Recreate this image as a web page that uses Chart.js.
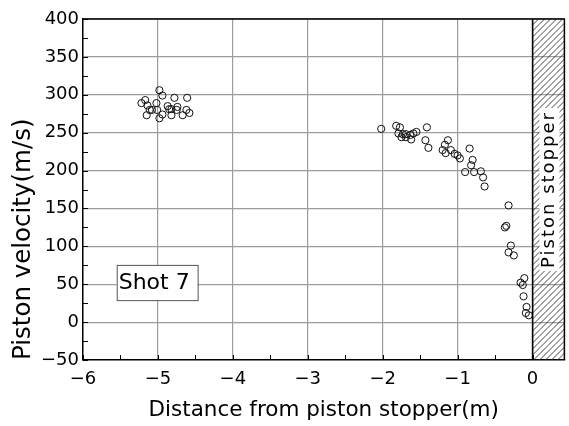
<!DOCTYPE html>
<html><head><meta charset="utf-8">
<script src="https://cdn.jsdelivr.net/npm/chart.js@4.4.1/dist/chart.umd.min.js"></script>
<style>html,body{margin:0;padding:0;background:#fff;overflow:hidden}#c{display:block}</style>
</head><body>
<canvas id="c" width="569" height="426"></canvas>
<script>
// Distance from piston stopper (m)
const distance = [
  -4.98,-4.94,-5.17,-4.78,-4.61,-5.22,-5.14,-5.02,-4.87,-4.74,-4.62,-5.11,-5.08,-4.85,-4.82,-4.75,-5.01,-5.15,-4.94,-4.82,-4.67,-4.58,-4.98,
  -2.02,-1.82,-1.77,-1.79,-1.73,-1.69,-1.63,-1.59,-1.55,-1.75,-1.69,-1.62,-1.41,-1.43,-1.39,-1.17,-1.20,-1.16,
  -1.13,-1.09,-0.84,-1.00,-1.04,-0.97,-0.80,-0.82,-0.90,-0.78,-0.69,-0.66,-0.64,
  -0.32,-0.37,-0.35,-0.29,-0.32,-0.25,-0.11,-0.16,-0.13,-0.12,-0.08,-0.09,-0.05
];
// Piston velocity (m/s)
const velocity = [
  306,299,293,296,296,289,286,289,285,284,280,280,280,281,281,280,280,273,274,273,273,276,269,
  255,259,257,249,248,248,247,249,251,244,244,241,257,240,230,234,227,223,
  240,227,229,220,222,216,214,207,198,198,199,191,179,
  154,125,127,101,92,88,58,52,49,34,20,12,9
];
const xTickValues = [-6,-5,-4,-3,-2,-1,0];
const yTickValues = [-50,0,50,100,150,200,250,300,350,400];
const xMinorValues = [-5.5,-4.5,-3.5,-2.5,-1.5,-0.5];
const yMinorValues = [-25,25,75,125,175,225,275,325,375];
const xTitle = 'Distance from piston stopper(m)';
const yTitle = 'Piston velocity(m/s)';
const stopperLabel = 'Piston stopper';
const shotLabel = 'Shot 7';

const fmt = v => (v < 0 ? '\u2212' + Math.abs(v) : String(v));
const GRID = '#9d9d9d';

const decor = {
  id: 'decor',
  beforeDatasetsDraw(chart) {
    const {ctx, chartArea: a, scales: {x, y}} = chart;
    const x0 = x.getPixelForValue(0);
    const H = a.bottom - a.top, W = a.right - x0;
    // hatched stopper region
    ctx.save();
    ctx.beginPath(); ctx.rect(x0, a.top, W, H); ctx.clip();
    ctx.strokeStyle = '#333'; ctx.lineWidth = 0.9;
    ctx.beginPath();
    for (let s = -H; s < W + 6; s += 6) {
      ctx.moveTo(x0 + s, a.bottom); ctx.lineTo(x0 + s + H, a.top);
    }
    ctx.stroke();
    ctx.restore();
    // stopper label
    ctx.save();
    ctx.font = '18px "DejaVu Sans"';
    try { ctx.letterSpacing = '2px'; } catch (e) {}
    const tw = ctx.measureText(stopperLabel).width;
    const cx = x0 + W / 2 + 1, cy = y.getPixelForValue(175);
    ctx.fillStyle = '#fff';
    ctx.fillRect(cx - 10, cy - tw / 2 - 3, 20, tw + 6);
    ctx.translate(cx, cy); ctx.rotate(-Math.PI / 2);
    ctx.fillStyle = '#000'; ctx.textAlign = 'center'; ctx.textBaseline = 'middle';
    ctx.fillText(stopperLabel, 0, 0);
    ctx.restore();
    // Shot 7 box
    ctx.save();
    const bx1 = x.getPixelForValue(-5.55), bx2 = x.getPixelForValue(-4.47);
    const by1 = y.getPixelForValue(75.5), by2 = y.getPixelForValue(29);
    ctx.fillStyle = '#fff'; ctx.fillRect(bx1, by1, bx2 - bx1, by2 - by1);
    ctx.strokeStyle = '#555'; ctx.lineWidth = 1;
    ctx.strokeRect(bx1 + 0.5, by1 + 0.5, bx2 - bx1, by2 - by1);
    ctx.font = '22px "DejaVu Sans"'; ctx.fillStyle = '#000';
    ctx.textAlign = 'left'; ctx.textBaseline = 'middle';
    ctx.fillText(shotLabel, bx1 + 2, (by1 + by2) / 2 + 1);
    ctx.restore();
  },
  afterDraw(chart) {
    const {ctx, chartArea: a, scales: {x, y}} = chart;
    ctx.save();
    ctx.strokeStyle = '#000'; ctx.lineWidth = 1.5;
    ctx.beginPath();
    ctx.moveTo(a.left, a.top); ctx.lineTo(a.right, a.top); ctx.lineTo(a.right, a.bottom);
    const x0 = x.getPixelForValue(0);
    ctx.moveTo(x0, a.top); ctx.lineTo(x0, a.bottom);
    ctx.stroke();
    ctx.lineWidth = 1;
    ctx.beginPath();
    yMinorValues.concat(yTickValues).forEach(v => {
      const py = Math.round(y.getPixelForValue(v)) + 0.5;
      ctx.moveTo(a.left, py); ctx.lineTo(a.left + 5, py);
    });
    xMinorValues.concat(xTickValues).forEach(v => {
      const px = Math.round(x.getPixelForValue(v)) + 0.5;
      ctx.moveTo(px, a.bottom); ctx.lineTo(px, a.bottom - 5);
    });
    ctx.stroke();
    ctx.restore();
  }
};

new Chart(document.getElementById('c'), {
  type: 'scatter',
  data: {
    datasets: [{
      data: distance.map((d, i) => ({x: d, y: velocity[i]})),
      pointStyle: 'circle',
      pointRadius: 3.6,
      pointHoverRadius: 3.6,
      borderWidth: 1,
      borderColor: '#111',
      backgroundColor: 'rgba(0,0,0,0)'
    }]
  },
  options: {
    responsive: false,
    animation: false,
    devicePixelRatio: 1,
    layout: {padding: {left: 0, right: 2, top: 19, bottom: 0}},
    plugins: {legend: {display: false}, tooltip: {enabled: false}},
    scales: {
      x: {
        type: 'linear', min: -6, max: 0.425,
        afterBuildTicks: s => { s.ticks = xTickValues.map(v => ({value: v})); },
        afterFit: s => { s.height = 66; },
        grid: {drawTicks: false, lineWidth: 1.2,
          color: c => (c.tick && c.tick.value === -6) ? 'rgba(0,0,0,0)' : (c.tick && c.tick.value === 0 ? '#000' : GRID)},
        border: {display: true, color: '#000', width: 1.5},
        ticks: {padding: 9, color: '#000', font: {family: '"DejaVu Sans"', size: 18}, callback: v => fmt(v), maxRotation: 0, autoSkip: false},
        title: {display: true, text: xTitle, color: '#000', font: {family: '"DejaVu Sans"', size: 21.5}, padding: {top: 0, bottom: 3}}
      },
      y: {
        type: 'linear', min: -50, max: 400,
        afterBuildTicks: s => { s.ticks = yTickValues.map(v => ({value: v})); },
        afterFit: s => { s.width = 83; },
        grid: {drawTicks: false, lineWidth: 1.2,
          color: c => (c.tick && c.tick.value === -50) ? 'rgba(0,0,0,0)' : GRID},
        border: {display: true, color: '#000', width: 1.5},
        ticks: {padding: 4, color: '#000', font: {family: '"DejaVu Sans"', size: 18}, callback: v => fmt(v), autoSkip: false},
        title: {display: true, text: yTitle, align: 'start', color: '#000', font: {family: '"DejaVu Sans"', size: 24.5}, padding: {top: 9, bottom: 0}}
      }
    }
  },
  plugins: [decor]
});
</script>
</body></html>
